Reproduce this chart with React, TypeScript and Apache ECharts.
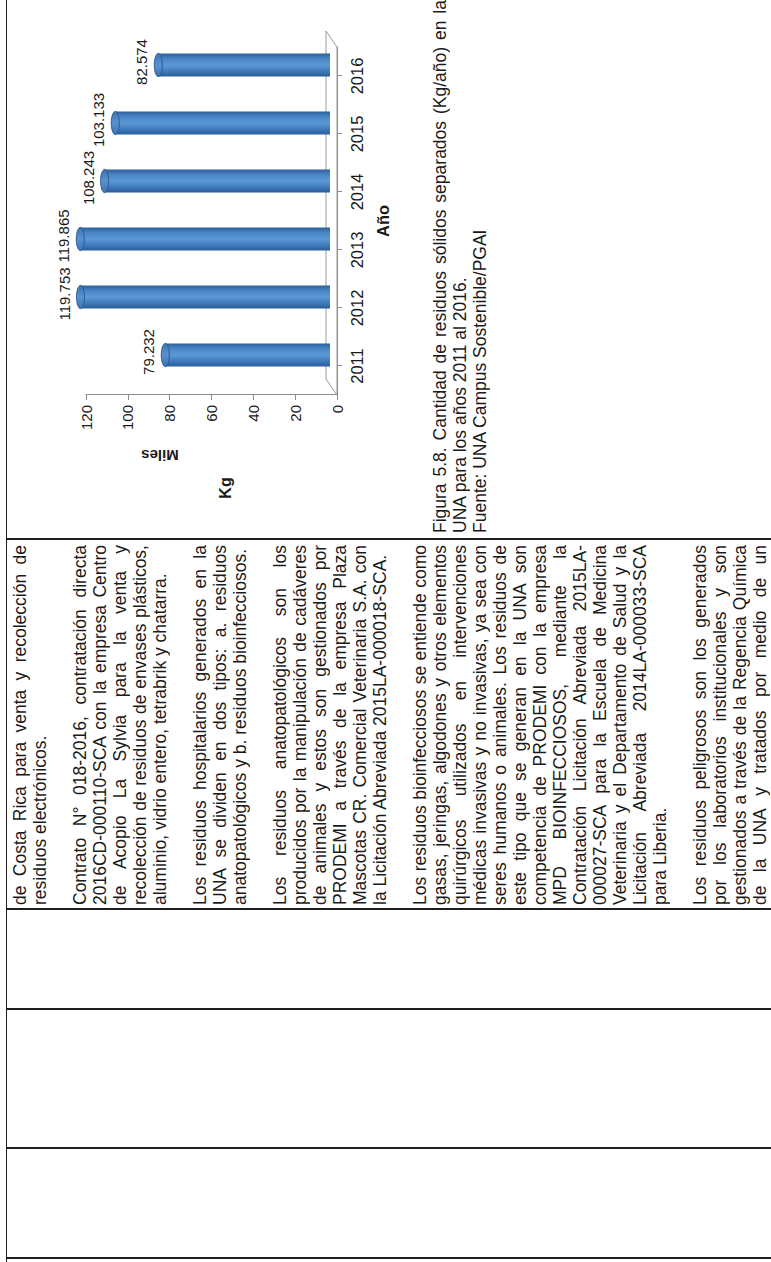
import React, { useEffect, useRef } from "react";
import * as echarts from "echarts";

// ---- chart data ----
const years: string[] = ["2011", "2012", "2013", "2014", "2015", "2016"];
const residuosMiles: number[] = [79.232, 119.753, 119.865, 108.243, 103.133, 82.574];
const valueMin = 0;
const valueMax = 120;
const valueInterval = 20;

// ---- page text ----
const paragraphs: string[][] = [
  ["de Costa Rica  para venta y recolección de", "residuos electrónicos."],
  [
    "Contrato N° 018-2016, contratación directa",
    "2016CD-000110-SCA con la empresa Centro",
    "de Acopio La Sylvia para la venta y",
    "recolección de residuos de envases plásticos,",
    "aluminio, vidrio entero, tetrabrik y chatarra.",
  ],
  [
    "Los residuos hospitalarios generados en la",
    "UNA se dividen en dos tipos: a. residuos",
    "anatopatológicos y b. residuos bioinfecciosos.",
  ],
  [
    "Los residuos anatopatológicos son los",
    "producidos por la manipulación de cadáveres",
    "de animales y estos son gestionados por",
    "PRODEMI a través de la empresa Plaza",
    "Mascotas CR. Comercial Veterinaria S.A. con",
    "la Licitación Abreviada 2015LA-000018-SCA.",
  ],
  [
    "Los residuos bioinfecciosos se entiende como",
    "gasas, jeringas, algodones y otros elementos",
    "quirúrgicos utilizados en intervenciones",
    "médicas invasivas y no invasivas, ya sea con",
    "seres humanos o animales. Los residuos de",
    "este tipo que se generan en la UNA son",
    "competencia de PRODEMI con la empresa",
    "MPD BIOINFECCIOSOS, mediante la",
    "Contratación Licitación Abreviada 2015LA-",
    "000027-SCA para la Escuela de Medicina",
    "Veterinaria y el Departamento de Salud y la",
    "Licitación Abreviada 2014LA-000033-SCA",
    "para Liberia.",
  ],
  [
    "Los residuos peligrosos son los generados",
    "por los laboratorios institucionales y son",
    "gestionados a través de la Regencia Química",
    "de la UNA y tratados por medio de un",
  ],
];
const captionLines: string[] = [
  "Figura 5.8. Cantidad de residuos sólidos separados (Kg/año) en la",
  "UNA para los años 2011 al 2016.",
  "Fuente: UNA Campus Sostenible/PGAI",
];

const FONT = "'Liberation Sans', Arial, sans-serif";
const TEXT = "#1a1a1a";
const AXIS_GREY = "#8e8e8e";

// page is drawn unrotated (1262 x 771) then turned 90deg counter-clockwise
const PAGE_W = 1262;
const PAGE_H = 771;
const FRONT = { left: 867, top: 86, width: 348, height: 251 };
const BAR_DEPTH = { dx: 11, dy: -10 };
const FLOOR_DEPTH = { dx: 16, dy: -11 };

function buildOption(): any {
  const fl = FRONT.left;
  const fr = FRONT.left + FRONT.width;
  const fb = FRONT.top + FRONT.height;
  return {
    animation: false,
    grid: [
      {
        left: FRONT.left + BAR_DEPTH.dx,
        top: FRONT.top + BAR_DEPTH.dy,
        width: FRONT.width,
        height: FRONT.height,
        outerBoundsMode: "none",
      },
      {
        left: FRONT.left,
        top: FRONT.top,
        width: FRONT.width,
        height: FRONT.height,
        outerBoundsMode: "none",
      },
    ],
    xAxis: [
      { gridIndex: 0, type: "category", data: years, show: false },
      {
        gridIndex: 1,
        type: "category",
        data: years,
        boundaryGap: true,
        axisLine: { show: true, lineStyle: { color: AXIS_GREY, width: 1 } },
        axisTick: { show: true, alignWithLabel: true, length: 5, lineStyle: { color: AXIS_GREY } },
        axisLabel: { fontFamily: FONT, fontSize: 16.5, color: TEXT, margin: 11 },
        name: "Año",
        nameLocation: "middle",
        nameGap: 37,
        nameTextStyle: { fontFamily: FONT, fontSize: 16.5, fontWeight: "bold", color: TEXT },
      },
    ],
    yAxis: [
      { gridIndex: 0, type: "value", min: valueMin, max: valueMax, interval: valueInterval, show: false },
      {
        gridIndex: 1,
        type: "value",
        min: valueMin,
        max: valueMax,
        interval: valueInterval,
        axisLine: { show: true, lineStyle: { color: AXIS_GREY, width: 1 } },
        axisTick: { show: true, length: 5, lineStyle: { color: AXIS_GREY } },
        axisLabel: { fontFamily: FONT, fontSize: 15, color: TEXT, margin: 10 },
        splitLine: { show: false },
      },
    ],
    graphic: [
      {
        type: "polygon",
        z: 0,
        shape: {
          points: [
            [fl, fb],
            [fr, fb],
            [fr + FLOOR_DEPTH.dx, fb + FLOOR_DEPTH.dy],
            [fl + FLOOR_DEPTH.dx, fb + FLOOR_DEPTH.dy],
          ],
        },
        style: { fill: "none", stroke: "#9a9a9a", lineWidth: 1 },
      },
      {
        type: "text",
        x: 807,
        y: 160,
        rotation: Math.PI / 2,
        style: {
          text: "Miles",
          fontFamily: FONT,
          fontSize: 15,
          fontWeight: "bold",
          fill: TEXT,
          align: "center",
          verticalAlign: "middle",
        },
      },
      {
        type: "text",
        x: 774,
        y: 225,
        style: {
          text: "Kg",
          fontFamily: FONT,
          fontSize: 16,
          fontWeight: "bold",
          fill: TEXT,
          align: "center",
          verticalAlign: "middle",
        },
      },
    ],
    series: [
      {
        type: "custom",
        xAxisIndex: 0,
        yAxisIndex: 0,
        z: 5,
        data: years.map((_, i) => [i, residuosMiles[i]]),
        renderItem: (params: any, api: any) => {
          const i = api.value(0);
          const v = api.value(1);
          const top = api.coord([i, v]);
          const base = api.coord([i, 0]);
          const w = api.size([1, 0])[0] * 0.4;
          const rx = w / 2;
          const ry = 4;
          return {
            type: "group",
            children: [
              {
                type: "rect",
                shape: { x: top[0] - rx, y: top[1] + ry, width: w, height: base[1] - top[1] - ry + 3 },
                style: {
                  fill: new echarts.graphic.LinearGradient(0, 0, 1, 0, [
                    { offset: 0, color: "#2a5c97" },
                    { offset: 0.2, color: "#3d76b8" },
                    { offset: 0.5, color: "#5c99d6" },
                    { offset: 0.78, color: "#4984c6" },
                    { offset: 1, color: "#2b5e9a" },
                  ]),
                },
              },
              {
                type: "ellipse",
                shape: { cx: top[0], cy: top[1] + ry, rx: rx, ry: ry },
                style: {
                  fill: new echarts.graphic.LinearGradient(0, 0, 1, 0, [
                    { offset: 0, color: "#3b72b2" },
                    { offset: 0.5, color: "#5a93cf" },
                    { offset: 1, color: "#3b72b2" },
                  ]),
                  stroke: "#2a5c97",
                  lineWidth: 1,
                },
              },
              {
                type: "text",
                x: top[0] + 3,
                y: top[1] - 5,
                style: {
                  text: v.toFixed(3),
                  fontFamily: FONT,
                  fontSize: 15,
                  fill: TEXT,
                  align: "center",
                  verticalAlign: "bottom",
                },
              },
            ],
          };
        },
      },
    ],
  };
}

const lineStyleBase: React.CSSProperties = {
  height: 20,
  lineHeight: "20px",
  whiteSpace: "normal",
  overflow: "hidden",
};

function Paragraphs() {
  return (
    <div
      style={{
        position: "absolute",
        left: 357,
        top: 10,
        width: 360,
        fontFamily: FONT,
        fontSize: 17.5,
        color: TEXT,
      }}
    >
      {paragraphs.map((p, pi) => (
        <div key={pi} style={{ marginBottom: 20 }}>
          {p.map((line, li) => {
            const isLast = li === p.length - 1 && pi !== paragraphs.length - 1;
            return (
              <div
                key={li}
                style={{
                  ...lineStyleBase,
                  textAlign: isLast ? "left" : "justify",
                  textAlignLast: isLast ? "left" : "justify",
                }}
              >
                {line}
              </div>
            );
          })}
        </div>
      ))}
    </div>
  );
}

function Caption() {
  return (
    <div
      style={{
        position: "absolute",
        left: 729,
        top: 430,
        width: 533,
        fontFamily: FONT,
        fontSize: 17.5,
        color: TEXT,
      }}
    >
      {captionLines.map((line, i) => (
        <div
          key={i}
          style={{
            ...lineStyleBase,
            textAlign: i === 0 ? "justify" : "left",
            textAlignLast: i === 0 ? "justify" : "left",
          }}
        >
          {line}
        </div>
      ))}
    </div>
  );
}

const RULE = "#1e1e1e";
const verticalRules = [3, 113, 252, 352, 722];

export default function App() {
  const ref = useRef<HTMLDivElement>(null);
  useEffect(() => {
    if (!ref.current) return;
    const chart = echarts.init(ref.current, null, { renderer: "svg" });
    chart.setOption(buildOption());
    return () => chart.dispose();
  }, []);
  return (
    <div
      style={{
        position: "fixed",
        left: 0,
        top: 0,
        width: PAGE_H,
        height: PAGE_W,
        overflow: "hidden",
        background: "#ffffff",
      }}
    >
      <div
        style={{
          position: "absolute",
          left: 0,
          top: 0,
          width: PAGE_W,
          height: PAGE_H,
          transformOrigin: "0 0",
          transform: `translate(0px, ${PAGE_W}px) rotate(-90deg)`,
          background: "#ffffff",
        }}
      >
        <div ref={ref} style={{ position: "absolute", left: 0, top: 0, width: PAGE_W, height: PAGE_H }} />
        <div style={{ position: "absolute", left: 0, top: 5.5, width: PAGE_W, height: 1.5, background: RULE }} />
        {verticalRules.map((u) => (
          <div
            key={u}
            style={{ position: "absolute", left: u, top: 5.5, width: 1.5, height: PAGE_H, background: RULE }}
          />
        ))}
        <Paragraphs />
        <Caption />
      </div>
    </div>
  );
}
